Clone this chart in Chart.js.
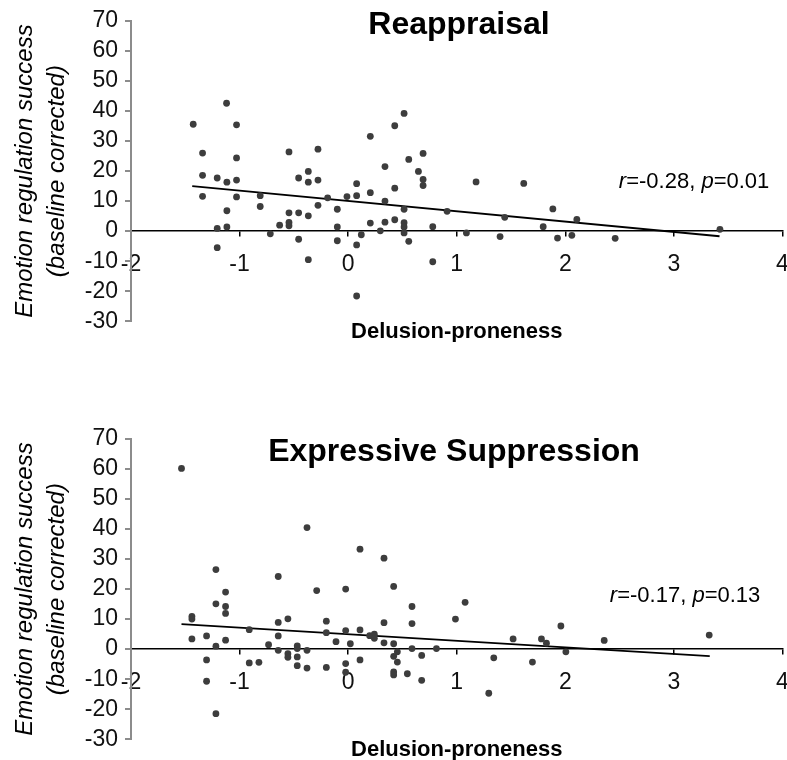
<!DOCTYPE html>
<html>
<head>
<meta charset="utf-8">
<script src="https://cdn.jsdelivr.net/npm/chart.js@4.4.1/dist/chart.umd.min.js"></script>
<style>
  html, body { margin: 0; padding: 0; background: #fff; }
  .panel { position: absolute; left: 0; width: 787px; height: 342px; }
</style>
</head>
<body>
<div class="panel" style="top:0"><canvas id="reappraisalChart"></canvas></div>
<div class="panel" style="top:418px"><canvas id="suppressionChart"></canvas></div>
<script>
// Reappraisal: delusion-proneness vs regulation success
const reapX = [-1.427, -1.12, -1.028, -1.341, -1.028, -1.341, -1.206, -1.117, -1.028, -1.341,
  -1.028, -0.81, -0.81, -1.117, -1.206, -1.117, -1.206, -0.717, -0.631, -0.545,
  -0.545, -0.545, -0.456, -0.545, -0.456, -0.367, -0.367, -0.278, -0.278, -0.367,
  -0.278, -0.456, -0.367, -0.189, -0.1, -0.1, -0.1, -0.011, 0.078, 0.078,
  0.078, 0.121, 0.078, 0.204, 0.204, 0.204, 0.296, 0.339, 0.339, 0.339,
  0.429, 0.429, 0.429, 0.515, 0.558, 0.515, 0.515, 0.515, 0.515, 0.558,
  0.647, 0.69, 0.69, 0.69, 0.779, 0.779, 0.911, 1.089, 1.178, 1.399,
  1.442, 1.617, 1.796, 1.885, 1.928, 2.06, 2.106, 2.459, 3.424];
const reapY = [35.6, 42.6, 35.4, 26.0, 24.4, 18.6, 17.7, 16.3, 17.0, 11.6,
  11.4, 11.8, 8.2, 6.8, 0.9, 1.4, -5.5, -0.9, 2.0, 2.9,
  1.8, 6.1, 6.1, 26.4, 17.7, 19.9, 16.3, 27.3, 17.0, 5.1,
  8.6, -2.7, -9.5, 11.1, 7.3, 1.4, -3.2, 11.5, 15.8, 11.8,
  -4.6, -1.2, -21.6, 31.6, 12.8, 2.7, 0.1, 21.5, 10.0, 3.0,
  35.1, 14.3, 3.8, 39.2, 23.9, 7.3, 2.8, 1.4, -0.6, -3.4,
  19.9, 25.9, 17.2, 15.2, 1.5, -10.2, 6.6, -0.6, 16.4, -1.8,
  4.6, 15.9, 1.5, 7.4, -2.3, -1.4, 3.9, -2.4, 0.6];
const reapTrendX = [-1.436, 3.42];
const reapTrendY = [15.0, -1.7];

// Expressive suppression
const suppX = [-1.535, -1.439, -1.439, -1.439, -1.304, -1.304, -1.304, -1.218, -1.218, -1.218,
  -1.218, -1.129, -1.129, -1.129, -1.129, -0.911, -0.911, -0.822, -0.733, -0.644,
  -0.644, -0.644, -0.644, -0.555, -0.555, -0.555, -0.469, -0.469, -0.469, -0.469,
  -0.379, -0.379, -0.379, -0.29, -0.201, -0.201, -0.201, -0.112, -0.023, -0.023,
  -0.023, -0.023, 0.02, 0.109, 0.109, 0.109, 0.198, 0.241, 0.241, 0.33,
  0.33, 0.33, 0.419, 0.419, 0.419, 0.419, 0.419, 0.453, 0.453, 0.545,
  0.588, 0.588, 0.588, 0.677, 0.677, 0.813, 0.988, 1.077, 1.295, 1.341,
  1.519, 1.697, 1.78, 1.826, 1.959, 2.005, 2.358, 3.325];
const suppY = [60.2, 10.9, 10.0, 3.4, 4.4, -3.6, -10.7, 26.5, 15.1, 1.0,
  -21.5, 19.0, 14.2, 11.9, 3.0, 6.5, -4.6, -4.4, 1.5, 24.2,
  8.9, 4.4, -0.4, 10.1, -1.5, -2.7, 1.1, 0.2, -2.6, -5.5,
  40.5, -0.4, -6.3, 19.5, 9.3, 5.5, -6.1, 2.5, 20.0, 6.2,
  -4.8, -7.7, 1.8, 33.3, 6.4, -3.6, 4.5, 5.0, 3.6, 30.3,
  8.8, 2.1, 20.9, 1.8, -2.4, -7.6, -8.6, -0.9, -4.3, -8.2,
  14.2, 8.5, 0.2, -2.1, -10.4, 0.2, 10.0, 15.6, -14.7, -2.9,
  3.4, -4.3, 3.4, 2.0, 7.7, -0.9, 2.9, 4.7];
const suppTrendX = [-1.535, 3.33];
const suppTrendY = [8.3, -2.36];

const xTicks = { min: -2, max: 4, step: 1 };
const yTicks = { min: -30, max: 70, step: 10 };

const FONT = '"Liberation Sans", Arial, Helvetica, sans-serif';

function toPoints(xs, ys) {
  return xs.map((x, i) => ({ x: x, y: ys[i] }));
}

const panelText = {
  id: "panelText",
  afterDraw(chart, args, opts) {
    const ctx = chart.ctx;
    const xs = chart.scales.x, ys = chart.scales.y;
    ctx.save();
    ctx.fillStyle = "#000";
    ctx.textBaseline = "middle";
    ctx.textAlign = "center";
    ctx.font = "bold 32px " + FONT;
    ctx.fillText(opts.title, opts.titleX, opts.titleY);

    // r / p annotation, italic letters
    let px = xs.getPixelForValue(opts.statAt[0]);
    const py = ys.getPixelForValue(opts.statAt[1]);
    ctx.textAlign = "left";
    opts.stat.forEach(function (part) {
      ctx.font = (part[1] ? "italic " : "") + "22px " + FONT;
      ctx.fillText(part[0], px, py);
      px += ctx.measureText(part[0]).width;
    });
    ctx.restore();
  }
};

function makeChart(id, xs, ys, trendX, trendY, text) {
  const canvas = document.getElementById(id);
  if (!canvas) return;

  new Chart(canvas.getContext("2d"), {
    type: "scatter",
    data: {
      datasets: [
        {
          data: toPoints(xs, ys),
          pointRadius: 3.4,
          pointHoverRadius: 3.4,
          pointBackgroundColor: "#3d3d3d",
          pointBorderWidth: 0
        },
        {
          type: "line",
          data: toPoints(trendX, trendY),
          borderColor: "#000",
          borderWidth: 1.8,
          pointRadius: 0,
          fill: false
        }
      ]
    },
    options: {
      responsive: true,
      maintainAspectRatio: false,
      animation: false,
      layout: { padding: { top: 21, right: 4.5, bottom: 0, left: 0 } },
      plugins: {
        legend: { display: false },
        tooltip: { enabled: false },
        panelText: text
      },
      scales: {
        x: {
          type: "linear",
          position: { y: 0 },
          min: xTicks.min,
          max: xTicks.max,
          ticks: {
            stepSize: xTicks.step,
            color: "#111",
            padding: 15,
            font: { family: FONT, size: 23 },
            maxRotation: 0,
            autoSkip: false
          },
          grid: { drawOnChartArea: false, tickLength: 5, color: "#000", lineWidth: 1.5 },
          border: { color: "#000", width: 1.5 },
          title: {
            display: true,
            text: "Delusion-proneness",
            color: "#000",
            font: { family: FONT, size: 22, weight: "bold" },
            padding: { top: 0, bottom: -89 }
          },
          afterFit: function (scale) {
            scale.height = 25;
            scale.paddingLeft = 0;
            scale.paddingRight = 0;
          }
        },
        y: {
          min: yTicks.min,
          max: yTicks.max,
          ticks: {
            stepSize: yTicks.step,
            color: "#111",
            padding: 7,
            font: { family: FONT, size: 23 }
          },
          grid: { drawOnChartArea: false, tickLength: 6, color: "#8c8c8c", lineWidth: 2 },
          border: { color: "#8c8c8c", width: 2 },
          title: {
            display: true,
            text: ["Emotion regulation success", "(baseline corrected)"],
            color: "#000",
            font: { family: FONT, size: 24, style: "italic", lineHeight: 1.34 },
            padding: { top: 9, bottom: 0 }
          },
          afterFit: function (scale) {
            scale.width = 131;
          }
        }
      }
    },
    plugins: [panelText]
  });
}

document.addEventListener("DOMContentLoaded", function () {
  makeChart("reappraisalChart", reapX, reapY, reapTrendX, reapTrendY, {
    title: "Reappraisal", titleX: 459, titleY: 25,
    statAt: [2.493, 16.3],
    stat: [["r", true], ["=-0.28, ", false], ["p", true], ["=0.01", false]]
  });
  makeChart("suppressionChart", suppX, suppY, suppTrendX, suppTrendY, {
    title: "Expressive Suppression", titleX: 454, titleY: 34,
    statAt: [2.41, 17.6],
    stat: [["r", true], ["=-0.17, ", false], ["p", true], ["=0.13", false]]
  });
});
</script>
</body>
</html>
